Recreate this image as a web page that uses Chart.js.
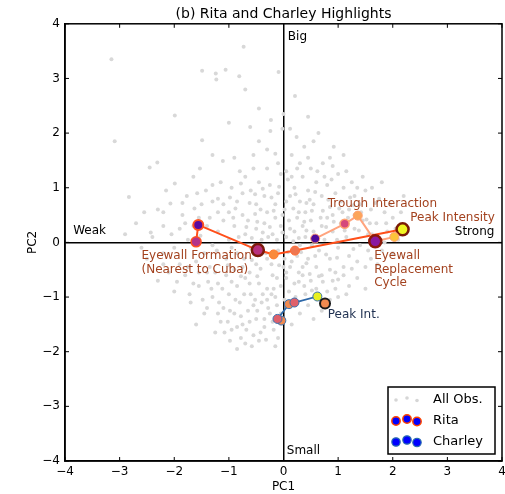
<!DOCTYPE html>
<html>
<head>
<meta charset="utf-8">
<script src="https://cdn.jsdelivr.net/npm/chart.js@4.4.1/dist/chart.umd.min.js"></script>
<style>
    html, body { margin: 0; padding: 0; background: #fff; overflow: hidden; }
    canvas { display: block; }
</style>
</head>
<body>
<canvas id="pcChart" width="505" height="494"></canvas>
<script>
// Todas las observaciones (PC1, PC2)
const allObs = [
    [-3.15, 3.35], [-0.73, 3.58], [-1.49, 3.14], [-1.24, 3.09], [-1.23, 2.98], [-1.06, 3.16], [-0.81, 3.04],
    [-0.70, 2.80], [-0.09, 3.12], [0.21, 2.68], [-1.99, 2.32], [-1.00, 2.19], [-0.61, 2.11], [-0.23, 2.24],
    [-0.24, 2.04], [-0.02, 2.08], [0.12, 2.08], [-3.09, 1.85], [-1.49, 1.87], [0.24, 1.93], [0.64, 2.00],
    [0.92, 1.75], [0.72, 1.45], [-2.45, 1.37], [-2.31, 1.46], [-1.11, 1.49], [-1.53, 1.35], [-0.30, 1.70],
    [-0.55, 1.60], [0.15, 1.60], [0.38, 1.75], [-0.80, 1.30], [-0.10, 1.45], [0.05, 1.30],
    [-2.83, 0.83], [-1.99, 1.08], [-2.07, 0.71], [-1.77, 0.85], [-1.63, 0.62], [-1.30, 1.05], [-1.42, 0.95],
    [-1.15, 1.10], [-1.20, 0.80], [-0.95, 1.00], [-0.85, 0.75], [-0.70, 1.20], [-0.60, 0.95], [-0.50, 0.70],
    [-0.45, 1.10], [-0.35, 0.85], [-0.25, 1.05], [-0.15, 0.70], [-0.10, 0.90], [0.08, 1.15], [0.12, 0.85],
    [0.20, 1.00], [0.30, 0.75], [0.35, 1.20], [0.45, 0.95], [0.55, 0.70], [0.60, 1.10], [0.70, 0.85],
    [0.80, 1.05], [0.85, 0.65], [0.95, 0.90], [1.05, 0.75], [1.10, 1.00], [1.20, 0.60], [1.30, 0.85],
    [1.40, 0.70], [1.50, 0.95], [1.60, 0.60], [1.75, 0.80], [1.85, 0.55], [-2.30, 0.60], [-1.85, 0.50],
    [-1.00, 0.55], [-0.75, 0.50], [-0.30, 0.55], [0.02, 0.60], [0.40, 0.55], [0.90, 0.50], [1.30, 0.50],
    [2.00, 0.45], [-0.05, 1.25], [0.50, 1.35], [1.00, 1.25],
    [-2.70, 0.35], [-2.40, 0.10], [-2.20, 0.30], [-2.00, -0.10], [-1.90, 0.25], [-1.75, 0.05], [-1.40, 0.30],
    [-1.30, -0.05], [-1.20, 0.20], [-1.10, 0.40], [-1.00, 0.05], [-0.90, 0.30], [-0.85, -0.20], [-0.70, 0.15],
    [-0.65, 0.40], [-0.60, -0.10], [-0.50, 0.25], [-0.40, 0.05], [-0.35, 0.35], [-0.30, -0.30], [-0.20, 0.15],
    [-0.15, 0.45], [-0.10, -0.15], [-0.05, 0.30], [0.05, 0.10], [0.10, 0.40], [0.15, -0.35], [0.20, 0.20],
    [0.25, 0.45], [0.30, -0.05], [0.35, 0.30], [0.40, 0.10], [0.45, -0.30], [0.50, 0.40], [0.55, 0.20],
    [0.65, -0.15], [0.70, 0.30], [0.75, 0.05], [0.80, 0.45], [0.85, -0.30], [0.90, 0.20], [1.00, -0.10],
    [1.05, 0.35], [1.15, 0.10], [1.20, -0.25], [1.30, 0.25], [1.40, -0.05], [1.45, 0.40], [1.55, 0.15],
    [1.60, -0.30], [1.70, 0.35], [1.80, -0.15], [1.90, 0.20], [2.00, -0.20], [2.10, 0.05], [-2.50, -0.30],
    [-2.20, -0.40], [-1.60, -0.35], [-1.45, -0.20], [-1.05, -0.30], [-0.75, -0.45], [-0.50, -0.40],
    [-0.45, -0.15], [0.00, -0.45], [0.25, -0.25], [0.60, -0.45], [1.10, -0.45], [1.50, -0.45], [-1.35, 0.45],
    [-0.95, -0.10], [0.35, -0.45],
    [-2.30, -0.70], [-2.00, -0.90], [-1.80, -0.60], [-1.70, -1.10], [-1.55, -0.80], [-1.45, -1.30],
    [-1.40, -0.55], [-1.30, -1.00], [-1.20, -0.75], [-1.15, -1.45], [-1.10, -1.20], [-1.05, -0.60],
    [-1.00, -0.95], [-0.95, -1.60], [-0.90, -1.30], [-0.85, -0.80], [-0.80, -1.10], [-0.75, -1.50],
    [-0.70, -0.65], [-0.65, -1.25], [-0.60, -0.95], [-0.55, -1.70], [-0.50, -1.40], [-0.45, -0.75],
    [-0.40, -1.10], [-0.35, -1.55], [-0.30, -0.85], [-0.25, -1.30], [-0.20, -0.60], [-0.15, -1.00],
    [-0.10, -1.75], [-0.05, -0.80], [0.05, -0.65], [0.10, -0.90], [0.15, -1.50], [0.20, -0.75], [0.30, -1.30],
    [0.35, -0.60], [0.40, -0.95], [0.50, -0.70], [0.55, -1.40], [0.60, -0.85], [0.70, -0.60], [0.80, -0.90],
    [0.90, -0.70], [1.00, -1.00], [1.10, -0.60], [1.20, -0.80], [1.35, -0.65], [1.50, -0.85], [-1.60, -1.50],
    [-1.25, -1.65], [-0.98, -1.80], [-0.70, -1.85], [-0.85, -1.95], [-0.45, -1.80], [-1.35, -0.45],
    [-0.62, -0.55], [0.25, -1.10], [-0.20, -1.45], [-0.55, -1.15], [-0.90, -0.50], [-1.20, -1.30],
    [-0.30, -1.05], [0.45, -1.15], [0.70, -1.25], [-1.75, -0.45], [0.85, -0.50],
    [-0.88, 0.62], [-0.52, 0.52], [-0.18, 0.58], [0.18, 0.62], [0.48, 0.78], [0.72, 0.58], [1.02, 0.62],
    [1.22, 0.82], [-0.68, 0.28], [-0.38, 0.18], [-0.12, 0.05], [0.12, 0.25], [0.38, 0.38], [0.62, 0.08],
    [0.92, 0.38], [1.18, 0.45], [1.42, 0.55], [-1.52, 0.12], [-1.22, -0.15], [-0.82, 0.10], [-0.28, 0.10],
    [0.08, -0.18], [0.52, -0.05], [0.78, -0.22], [1.28, -0.12], [-0.72, -0.30], [-0.48, -0.62], [-0.22, -0.40],
    [0.02, -0.30], [0.28, -0.55], [0.58, -0.25], [0.98, -0.28], [-1.12, -0.85], [-0.88, -1.05], [-0.62, -0.75],
    [-0.38, -0.95], [-0.12, -0.65], [0.12, -0.45], [0.38, -0.80], [0.62, -1.00], [-1.38, -0.72], [-1.02, -1.45],
    [-0.78, -1.35], [-0.52, -1.05], [-0.28, -1.20], [-0.05, -1.30], [0.22, -1.00], [-0.95, -0.72],
    [-0.68, -1.60], [-0.42, -1.65], [-0.18, -1.60], [-1.48, -1.05], [-1.65, -0.75], [-1.90, -0.40],
    [-2.10, -0.55], [-2.60, -0.10], [-2.20, 0.55], [-1.65, 0.30], [-1.10, 0.70], [-0.42, 0.60], [0.28, 0.55],
    [0.82, 0.78], [1.58, 0.35], [1.88, 0.35], [2.05, 0.25], [1.72, -0.40], [1.35, -0.35], [0.95, -0.55],
    [-0.32, -0.20], [-0.58, 0.08], [-0.02, 0.50], [0.42, 0.72], [-0.75, 0.90], [-0.30, 1.35], [0.30, 1.45],
    [0.90, 1.40], [-0.55, 1.35], [-1.65, 1.20], [-2.55, 0.55], [-2.90, 0.15], [-2.43, 0.18],
    [0.15, 1.20], [0.25, 1.35], [0.45, 1.55], [0.62, 1.30], [0.75, 1.20], [0.85, 1.55], [1.15, 1.30],
    [1.25, 1.10], [1.45, 1.20], [1.62, 1.00], [1.80, 1.10], [1.95, 0.70], [2.15, 0.55], [2.20, 0.85],
    [1.68, 0.72], [1.52, 0.42], [1.12, 0.22], [0.98, 0.05], [0.68, 0.45], [0.42, 0.22], [0.18, 0.02],
    [0.05, 0.75], [0.22, 0.88], [0.58, 0.92], [0.88, 1.15], [1.35, 1.00], [0.32, -0.18], [0.48, -0.58],
    [0.72, -0.72], [0.95, -0.85], [1.15, -0.95], [0.85, -1.05], [0.52, -0.88], [0.28, -0.72], [0.05, -0.55],
    [-0.08, -0.42], [-0.18, -0.85], [-0.42, -0.48], [-0.58, -0.32], [-0.78, -0.62], [-1.02, -0.42],
    [-1.25, -0.55], [-1.55, -0.55], [-1.32, -0.85], [-1.18, -1.10], [-0.98, -1.25], [-0.72, -0.95],
    [-0.48, -1.25], [-0.22, -0.95], [0.02, -1.05], [-0.12, -1.15], [-0.35, -1.40], [-0.62, -1.45],
    [-0.85, -1.55], [-1.08, -1.65], [-0.58, -1.90], [-0.32, -1.78], [-0.15, -1.90], [-0.78, -1.75],
    [-1.40, -1.20], [-1.72, -0.95], [-1.95, -0.72], [-2.20, -0.20], [-2.05, 0.15], [-1.80, 0.35],
    [-1.55, 0.45], [-1.20, 0.55], [-0.98, 0.82], [-0.62, 0.72], [-0.38, 0.98], [-0.08, 1.02], [-0.22, 0.82],
    [-0.52, 0.88], [-0.78, 1.08], [-1.30, 0.75], [-1.50, 0.70], [-0.92, 0.45], [-0.48, 0.38], [-0.25, 0.28],
    [-0.02, 0.18], [0.28, 0.08], [0.52, 0.58], [0.78, 0.28], [1.08, 0.55], [1.28, 0.68], [1.38, 0.22],
    [1.62, 0.15], [1.85, 0.00], [1.55, -0.15], [1.25, -0.48], [1.00, -0.68], [0.65, -0.62], [0.42, -0.38],
    [-1.58, 0.90], [-1.85, 0.72], [-2.15, 0.95], [-0.15, 1.62], [0.55, 1.85], [1.10, 1.60], [-0.45, 1.85],
    [-0.90, 1.55], [-1.30, 1.60], [0.00, 2.35], [0.45, 2.30], [-0.45, 2.45]
];

// Trayectoria de Rita
const ritaPC1 = [-1.60, -1.56, -0.47, -0.18, 0.21, 2.18, 2.03, 1.68, 1.36, 1.12, 0.58];
const ritaPC2 = [0.01, 0.32, -0.14, -0.22, -0.15, 0.24, 0.10, 0.02, 0.49, 0.34, 0.07];

// Trayectoria de Charley
const charleyPC1 = [-0.04, -0.11, 0.10, 0.20, 0.62, 0.76];
const charleyPC2 = [-1.43, -1.40, -1.13, -1.10, -0.99, -1.12];

const ticksPC = [-4, -3, -2, -1, 0, 1, 2, 3, 4];

// Colores de los puntos (mapa de color) y bordes
const ritaFill = ['#b3338a', '#5a0aa0', '#b8307e', '#f98a3c', '#ef7650', '#f0f522',
    '#fdc43a', '#8a1aa0', '#fca55a', '#d5487b', '#4c0a9c'];
const ritaEdge = ['#ff5020', '#ff5020', '#7b1b0b', '#ff7a30', '#ff6a30', '#7a1a05',
    '#ffa070', '#8b1a0a', '#ffa070', '#ffa070', '#ffa070'];
const ritaEdgeW = [1.5, 2, 2.5, 1, 1, 2.5, 1, 2.5, 1, 1.5, 1];
const ritaRadius = [5, 5, 6, 4.5, 4.5, 6, 4.5, 6, 4.5, 4.5, 4.5];

const charleyFill = ['#f08a50', '#e0606a', '#f08a50', '#e0606a', '#e8f020', '#f08a50'];
const charleyEdge = ['#3670b0', '#3670b0', '#3670b0', '#3670b0', '#3670b0', '#1a1a1a'];
const charleyEdgeW = [1, 1, 1, 1, 1, 2];

const ritaText = '#a3421f';
const notes = [
    { text: 'Big', x: 0.08, y: 3.76, color: '#000', align: 'left' },
    { text: 'Small', x: 0.06, y: -3.82, color: '#000', align: 'left' },
    { text: 'Weak', x: -3.85, y: 0.21, color: '#000', align: 'left' },
    { text: 'Strong', x: 3.86, y: 0.19, color: '#000', align: 'right' },
    { text: 'Trough Interaction', x: 0.81, y: 0.71, color: ritaText, align: 'left' },
    { text: 'Peak Intensity', x: 2.32, y: 0.45, color: ritaText, align: 'left' },
    { text: ['Eyewall', 'Replacement', 'Cycle'], x: 1.66, y: -0.25, color: ritaText, align: 'left' },
    { text: ['Eyewall Formation', '(Nearest to Cuba)'], x: -2.6, y: -0.25, color: ritaText, align: 'left' },
    { text: 'Peak Int.', x: 0.81, y: -1.33, color: '#1f3050', align: 'left' }
];

Chart.defaults.font.family = "'DejaVu Sans', sans-serif";
Chart.defaults.color = '#000';

const minus = v => String(v).replace('-', '\u2212');

// Marco completo, ticks hacia adentro, anotaciones y leyenda
const framePlugin = {
    id: 'framePlugin',
    afterDraw(chart) {
        const ctx = chart.ctx;
        const area = chart.chartArea;
        const xs = chart.scales.x;
        const ys = chart.scales.y;
        ctx.save();

        // ticks
        ctx.strokeStyle = '#000';
        ctx.lineWidth = 1;
        ticksPC.forEach(v => {
            let px = xs.getPixelForValue(v);
            let py = ys.getPixelForValue(v);
            ctx.beginPath();
            ctx.moveTo(px, area.bottom); ctx.lineTo(px, area.bottom - 4);
            ctx.moveTo(px, area.top); ctx.lineTo(px, area.top + 4);
            ctx.moveTo(area.left, py); ctx.lineTo(area.left + 4, py);
            ctx.moveTo(area.right, py); ctx.lineTo(area.right - 4, py);
            ctx.stroke();
        });

        ctx.lineWidth = 1.5;
        ctx.strokeRect(area.left, area.top, area.right - area.left, area.bottom - area.top);

        // textos
        ctx.font = "12px 'DejaVu Sans', sans-serif";
        ctx.textBaseline = 'middle';
        notes.forEach(n => {
            let lines = Array.isArray(n.text) ? n.text : [n.text];
            ctx.fillStyle = n.color;
            ctx.textAlign = n.align;
            lines.forEach((t, i) => {
                ctx.fillText(t, xs.getPixelForValue(n.x), ys.getPixelForValue(n.y) + i * 13.5);
            });
        });

        // leyenda
        let bx = area.right - 114, by = area.bottom - 74, bw = 107, bh = 67;
        ctx.fillStyle = '#fff';
        ctx.fillRect(bx, by, bw, bh);
        ctx.strokeStyle = '#000';
        ctx.lineWidth = 1.5;
        ctx.strokeRect(bx, by, bw, bh);

        let dotsX = [8, 19, 29];
        let dotsY = [0.5, -1.5, 1];
        let rows = [
            { label: 'All Obs.', fill: '#d6d6d6', edge: '#d6d6d6', r: 1.8, w: 0 },
            { label: 'Rita', fill: '#0000ff', edge: '#ff4500', r: 4.2, w: 1.5 },
            { label: 'Charley', fill: '#0000ff', edge: '#2a6db0', r: 4.2, w: 1.2 }
        ];
        rows.forEach((row, i) => {
            let cy = by + 12.5 + i * 21;
            dotsX.forEach((dx, j) => {
                ctx.beginPath();
                ctx.arc(bx + dx, cy + dotsY[j], row.r, 0, Math.PI * 2);
                ctx.fillStyle = row.fill;
                ctx.fill();
                if (row.w > 0) {
                    ctx.lineWidth = row.w;
                    ctx.strokeStyle = row.edge;
                    ctx.stroke();
                }
            });
            ctx.fillStyle = '#000';
            ctx.textAlign = 'left';
            ctx.font = "13px 'DejaVu Sans', sans-serif";
            ctx.fillText(row.label, bx + 45, cy);
        });
        ctx.restore();
    }
};

const zeroGrid = {
    color: c => (c.tick && c.tick.value === 0) ? '#000' : 'rgba(0,0,0,0)',
    lineWidth: 1.5,
    drawTicks: false
};

let el = document.getElementById('pcChart').getContext('2d');
let pcChart = new Chart(el, {
    type: 'scatter',
    data: {
        datasets: [{
            label: 'Rita',
            data: ritaPC1.map((x, i) => ({ x: x, y: ritaPC2[i] })),
            showLine: true,
            borderWidth: 2,
            segment: {
                borderColor: c => c.p0DataIndex < 5 ? '#ff4f1a' : '#ffa47e'
            },
            pointBackgroundColor: ritaFill,
            pointBorderColor: ritaEdge,
            pointBorderWidth: ritaEdgeW,
            pointRadius: ritaRadius
        }, {
            label: 'Charley',
            data: charleyPC1.map((x, i) => ({ x: x, y: charleyPC2[i] })),
            showLine: true,
            borderColor: '#2d68a8',
            borderWidth: 1.8,
            pointBackgroundColor: charleyFill,
            pointBorderColor: charleyEdge,
            pointBorderWidth: charleyEdgeW,
            pointRadius: [4.5, 4.5, 4.5, 4.5, 4.5, 5]
        }, {
            label: 'All Obs.',
            data: allObs.map(p => ({ x: p[0], y: p[1] })),
            pointRadius: 2,
            pointBorderWidth: 0,
            pointBackgroundColor: '#d8d8d8'
        }]
    },
    options: {
        responsive: false,
        animation: false,
        layout: { autoPadding: false, padding: { top: 0, right: 3, left: 0, bottom: 0 } },
        plugins: {
            legend: { display: false },
            tooltip: { enabled: false },
            title: {
                display: true,
                fullSize: false,
                text: '(b) Rita and Charley Highlights',
                font: { size: 14, weight: 'normal' },
                color: '#000',
                padding: { top: 6, bottom: 1 }
            }
        },
        scales: {
            x: {
                type: 'linear',
                min: -4,
                max: 4,
                afterBuildTicks: s => { s.ticks = ticksPC.map(v => ({ value: v })); },
                afterFit: s => { s.height = 33; s.paddingLeft = 0; s.paddingRight = 0; },
                ticks: { callback: minus, font: { size: 12 }, padding: 4, color: '#000' },
                grid: zeroGrid,
                border: { display: true, color: '#000', width: 1.5 },
                title: { display: true, text: 'PC1', font: { size: 12 }, padding: { top: 0, bottom: 0 } }
            },
            y: {
                type: 'linear',
                min: -4,
                max: 4,
                afterBuildTicks: s => { s.ticks = ticksPC.map(v => ({ value: v })); },
                afterFit: s => { s.width = 65; s.paddingTop = 0; s.paddingBottom = 0; },
                ticks: { callback: minus, font: { size: 12 }, padding: 5, color: '#000' },
                grid: zeroGrid,
                border: { display: true, color: '#000', width: 1.5 },
                title: { display: true, text: 'PC2', font: { size: 12 }, padding: { top: 26, bottom: 0 } }
            }
        }
    },
    plugins: [framePlugin]
});
</script>
</body>
</html>
